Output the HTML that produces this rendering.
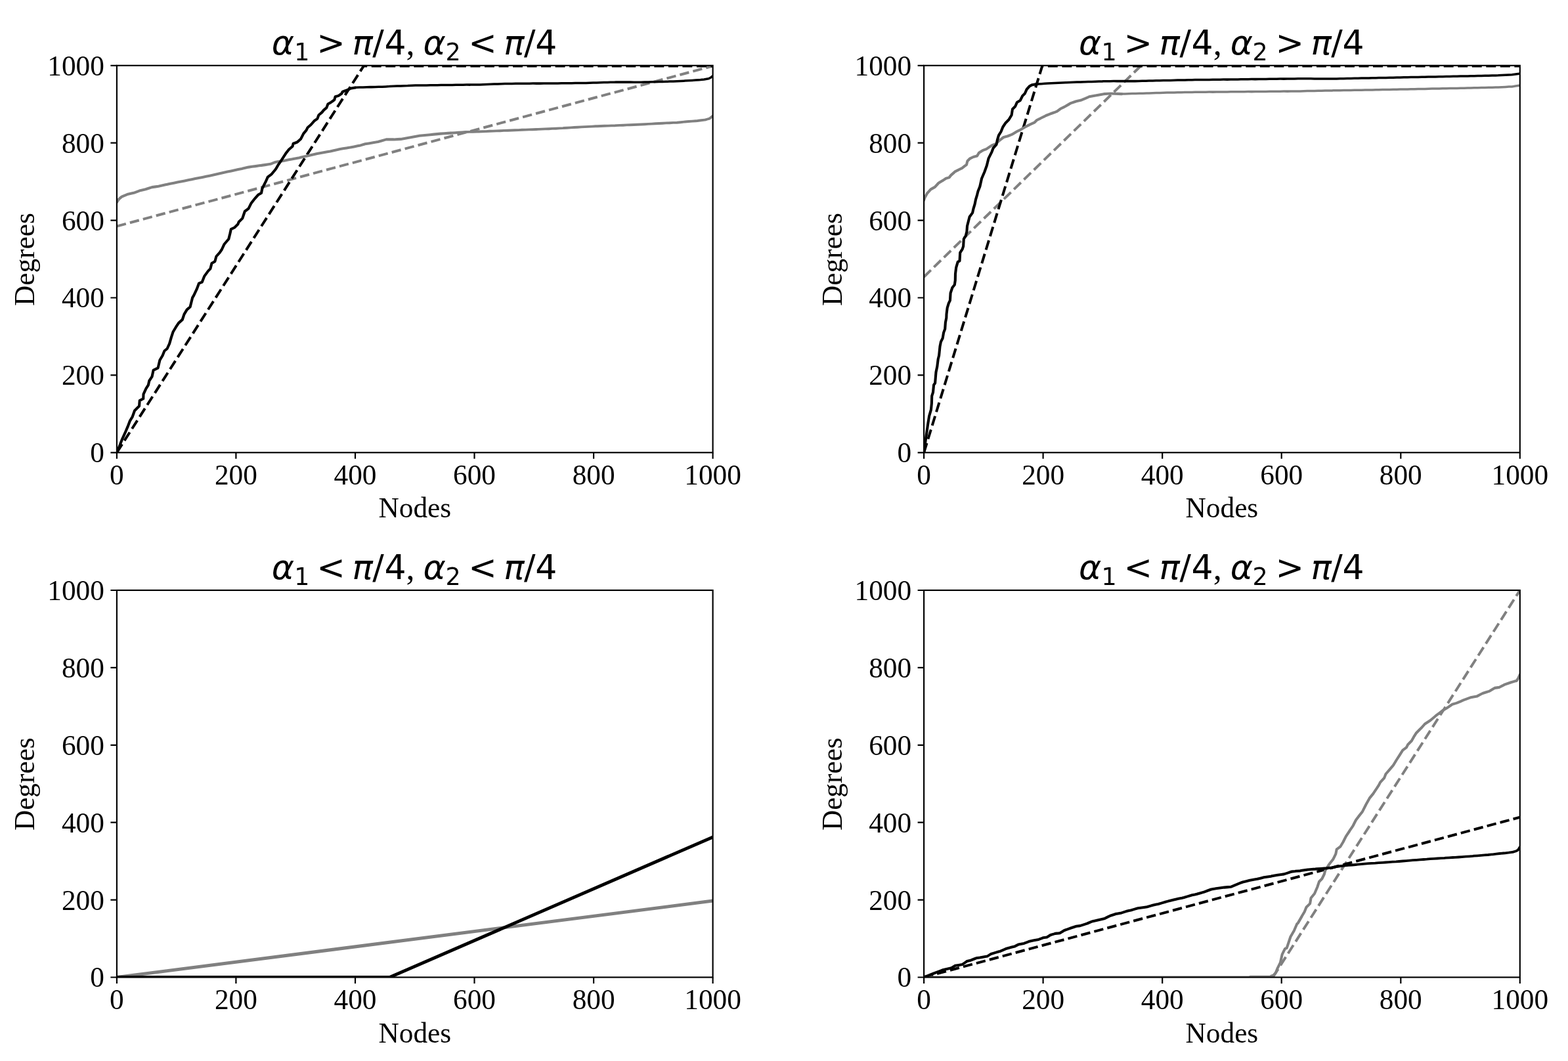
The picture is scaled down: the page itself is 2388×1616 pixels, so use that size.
<!DOCTYPE html>
<html lang="en">
<head>
<meta charset="utf-8">
<title>Degree sequences</title>
<style>
html,body{margin:0;padding:0;background:#fff;}
body{width:2388px;height:1616px;overflow:hidden;}
svg{display:block;}
.t{font-family:"Liberation Serif","DejaVu Serif",serif;font-size:43.3px;fill:#000;}
.m{font-family:"DejaVu Sans","Liberation Sans",sans-serif;font-size:52px;fill:#000;}
.mi{font-family:"DejaVu Sans","Liberation Sans",sans-serif;font-style:italic;font-size:52px;fill:#000;}
.ms{font-family:"DejaVu Sans","Liberation Sans",sans-serif;font-size:36.4px;fill:#000;}
.tc{font-family:"Liberation Serif","DejaVu Serif",serif;font-size:52px;fill:#000;}
.sp{stroke:#000;stroke-width:2.17;fill:none;stroke-linecap:square;}
.tk{stroke:#000;stroke-width:2.17;fill:none;}
.ln{fill:none;stroke-width:3.5;stroke-linejoin:round;stroke-linecap:round;}
.ds{fill:none;stroke-width:4.0;stroke-linejoin:round;stroke-linecap:butt;}
</style>
</head>
<body>
<svg xmlns="http://www.w3.org/2000/svg" width="2388" height="1616" viewBox="0 0 2388 1616">
<rect x="0" y="0" width="2388" height="1616" fill="#fff"/>
<defs>
<clipPath id="c1"><rect x="177.9" y="99.8" width="907.7" height="589.5"/></clipPath>
<clipPath id="c2"><rect x="1407.1" y="99.8" width="907.7" height="589.5"/></clipPath>
<clipPath id="c3"><rect x="177.9" y="899" width="907.7" height="589.5"/></clipPath>
<clipPath id="c4"><rect x="1407.1" y="899" width="907.7" height="589.5"/></clipPath>
</defs>
<g id="ax1">
<g clip-path="url(#c1)">
<path class="ds" stroke="#808080" stroke-dasharray="14.42 6.23" stroke-dashoffset="0" d="M177.9 344.6L1085.6 100.5"/>
<path class="ds" stroke="#000000" stroke-dasharray="15.03 6.5" stroke-dashoffset="0" d="M177.9 689.3L553.9 100.4L1085.6 100.4"/>
<path class="ln" stroke="#808080" style="stroke-width:4.1" d="M178.1 308L181.2 303.1L185.4 299.6L190.8 297.3L193.8 296.1L199.2 294.8L204.7 293.5L205 293.4L210.4 291.3L213.4 290.2L218.8 289L221.8 288.3L227.2 286.5L231.5 285.1L237 284.4L241.3 283.8L246.8 282.6L252.2 281.3L253.9 280.9L259.4 279.8L264.8 278.7L270.3 277.6L275.7 276.5L281.2 275.4L286.6 274.3L292 273.2L297.5 272.1L302.9 271L308.4 269.9L313.8 268.8L319.3 267.7L324.7 266.5L330.2 265.3L335.6 264L341.1 262.8L346.5 261.6L352 260.4L357.4 259.2L362.8 258.1L368.3 257L370 256.6L375.4 255.3L378.4 254.6L383.8 253.8L389.3 253.1L394.7 252.3L398 251.9L403.4 251.1L408.9 250.3L412 249.8L417.4 247.7L418.9 247.1L424.4 246.1L428.7 245.4L434.2 244.4L439.6 243.3L439.9 243.2L445.4 242.3L450.8 241.2L456.3 240.2L456.7 240.1L462.2 238.8L467.6 237.5L467.9 237.4L473.3 236.2L478.8 235L481.9 234.3L487.3 233.3L492.8 232.2L498.2 231.2L502.9 230.5L508.3 229.2L513.8 228L516.9 227.2L522.3 226.3L527.7 225.4L533.2 224.5L533.6 224.4L539.1 223.4L544.5 222.3L549 221.4L554.5 219.7L556 219.3L561.5 218.4L566.9 217.5L572.4 216.6L575.6 216L581 214.5L586.5 212.9L588.2 212.4L593.6 212.4L599.1 212.4L600 212.5L605.4 212.1L610.3 211.9L615.8 210.9L621.2 209.9L626.7 208.9L632.1 207.9L637.6 207L638.7 206.8L644.2 206.2L649.6 205.7L655.1 205.2L660.5 204.6L666 204.1L671 203.6L676.4 203.2L681.9 202.9L686.2 202.6"/>
<path class="ln" stroke="#808080" style="stroke-width:3.9" d="M686.2 202.6L687.3 202.5L692.8 202.2L698.2 201.8L703.7 201.4L709.1 201L709.7 201L715.2 200.9L720.6 200.7L726.1 200.6L729.1 200.5L734.5 200.3L740 200.1L745.4 199.8L750.9 199.6L756.3 199.4L761.8 199.2L767.2 198.9L767.8 198.9L773.3 198.7L778.7 198.5L784.2 198.3L789.6 198.1L795 197.8L800.5 197.6L805.9 197.4L811.4 197.2L816.8 197L819.5 196.9L824.9 196.6L830.3 196.4L835.8 196.2L841.2 195.9L846.7 195.7L852.1 195.4L857.6 195.1L858.2 195L863.6 194.7L869.1 194.4L874.5 194L880 193.7L885.4 193.4L890.9 193.1L896.3 192.9L901.7 192.6L907.2 192.3L909.5 192.3L915 192L920.4 191.8L925.9 191.6L931.3 191.4L936.8 191.2L938.2 191.1L943.6 190.9L949 190.7L954.5 190.4L959.9 190.2L965.4 190L970.8 189.8L976.3 189.5L981.8 189.2L987.2 188.9L992.6 188.6L998.1 188.3L1003.5 188L1009 187.7L1014.4 187.4L1019.9 187.2L1025.3 186.9L1030.8 186.7L1036.2 186.2L1041.7 185.6L1043.1 185.5L1048.5 185L1054 184.6L1059.4 184.2L1062.1 184L1067.6 183.3L1073 182.6L1073.6 182.6L1079 181L1080.3 180.7L1085.7 176.5"/>
<path class="ln" stroke="#000000" style="stroke-width:4.1" d="M178.1 689.4L183.6 675.3L186.1 668.8L190.3 659.7L194.5 649.9L198 640.8L201.5 635.2L205 625.5L209.2 621.3L212 618.5L212.7 610.1L218.1 607.3L218.2 607.3L218.5 600.3L222.4 591.9L225.9 586.3L227.3 580L231.5 573.7L233.6 563.9L239.1 561.2L240.6 560.4L243.4 548.5L247.6 541.5L250.4 534.5L254.6 531L258.1 523.4L260.9 513.6L263.7 505.2L267.9 498.2L272.1 491.9L277.5 487.1L277.7 487L280.5 478.6L284.7 471.6L289.6 467.4L293.1 453.4L295.2 449.9L300.1 439.4L302.9 431.7L307.8 429.6L311.3 420.6L316.7 413.1L316.9 412.9L320.3 409.4L322.5 401L327.3 398.2L329.4 390.5L334.9 384.4L335 384.2L337.8 380L341.3 372.3L346.8 365.8L348.3 363.9L350.4 355.5L351.8 349.2L357.3 346.5L357.4 346.4L362.3 341.5L363.7 338L369.2 332.6L369.3 332.4L372.8 322L378.2 317.9L378.4 317.8L382.6 309.4L388 302.6L388.2 302.4L393.1 296.8L398 294L399.4 287L404.8 276.3L405 276L407.8 269.7L413.2 265.6L413.4 265.5L418.8 259L420.3 257.1L423.9 250.8L428.7 243.8L434.2 235.4L435 234.1L439.9 227.8L445.4 223L445.5 222.9L446.6 218.7L452.1 216.7L452.5 216.6L458 211.8L458.1 211.7L462.3 203.3L466.5 198.4L468.6 194.2L473.5 190L478.9 183.9L479.1 183.7L483.3 180.9L485.4 175.3L490.3 171.1L493.1 167.6L497.3 164.1L499.4 158.5L504.3 155.7L509.2 152.2L510.6 147.3L515.5 145.9L520.3 142.5L521.7 139.7L527.2 137.8L528 137.6L533.5 134.9L533.6 134.8L539.1 133.8L541 133.5"/>
<path class="ln" stroke="#000000" style="stroke-width:3.55" d="M541 133.5L542 133.3L547.5 133.1L552.9 133L558.4 132.8L563.8 132.6L565.8 132.6L571.3 132.5L576.7 132.3L582.1 132.2L587.6 131.9L593 131.6L593.8 131.5L599.2 131.3L604.7 131.1L610.1 130.9L615.6 130.7L621 130.5L621.7 130.4L627.2 130.2L632.6 130L638.1 130L643.5 129.9L649 129.9L649.7 129.9L655.2 129.8L660.6 129.7L666.1 129.7L671.5 129.6L677 129.5L678 129.5L683.4 129.5L688.9 129.4L694.3 129.3L699.8 129.3L705.2 129.2L710.6 129.1L716.1 129.1L719.9 129L725.4 129L730.8 128.9L736.3 128.7L741.7 128.5L747.2 128.3L752.6 128.1L758.1 128L763.5 127.8L768.9 127.6L774.4 127.5L779.8 127.4L785.3 127.3L789.9 127.3L795.3 127.3L800.8 127.2L806.2 127.2L811.6 127.1L817.1 127.1L822.5 127.1L828 127L833.4 127L838.9 127L844.3 126.9L849.8 126.9L855.2 126.8L859.8 126.8L865.2 126.7L870.7 126.7L876.1 126.6L881.6 126.5L887 126.5L892.5 126.4L897.9 126.2L903.4 126.1L908.8 125.9L914.3 125.8L919.7 125.6L925.1 125.5L929.7 125.3L935.2 125.2L938.2 125.1L943.6 125.1L949 125.1L954.5 125.1L959.9 125.1L965.4 125.2L970.8 125.2L976.3 125.2L981.8 125.1L987.2 124.9L992.6 124.8L998.1 124.7L1003.5 124.6L1009 124.4L1014.4 124.3L1019.9 124.1L1025.3 123.9L1030.8 123.7L1036.2 123.5L1041.7 123.2L1043.1 123.1L1048.5 122.8L1054 122.4L1059.4 122.1L1064.8 121.7L1066.9 121.6L1072.3 120.9L1077.8 119.9L1079.3 119.7L1083.1 117.7L1085.7 115.5"/>
</g>
<path class="tk" d="M177.9 689.3v9.5M177.9 689.3h-9.5M359.4 689.3v9.5M177.9 571.4h-9.5M541 689.3v9.5M177.9 453.5h-9.5M722.5 689.3v9.5M177.9 335.6h-9.5M904.1 689.3v9.5M177.9 217.7h-9.5M1085.6 689.3v9.5M177.9 99.8h-9.5"/>
<rect class="sp" x="177.9" y="99.8" width="907.7" height="589.5"/>
<text class="t" text-anchor="middle" transform="translate(177.9 738) scale(1 1.03)">0</text>
<text class="t" text-anchor="middle" transform="translate(359.4 738) scale(1 1.03)">200</text>
<text class="t" text-anchor="middle" transform="translate(541 738) scale(1 1.03)">400</text>
<text class="t" text-anchor="middle" transform="translate(722.5 738) scale(1 1.03)">600</text>
<text class="t" text-anchor="middle" transform="translate(904.1 738) scale(1 1.03)">800</text>
<text class="t" text-anchor="middle" transform="translate(1085.6 738) scale(1 1.03)">1000</text>
<text class="t" text-anchor="end" transform="translate(158.9 704.2) scale(1 1.03)">0</text>
<text class="t" text-anchor="end" transform="translate(158.9 586.3) scale(1 1.03)">200</text>
<text class="t" text-anchor="end" transform="translate(158.9 468.4) scale(1 1.03)">400</text>
<text class="t" text-anchor="end" transform="translate(158.9 350.5) scale(1 1.03)">600</text>
<text class="t" text-anchor="end" transform="translate(158.9 232.6) scale(1 1.03)">800</text>
<text class="t" text-anchor="end" transform="translate(158.9 114.7) scale(1 1.03)">1000</text>
<text class="t" text-anchor="middle" transform="translate(631.8 788.3) scale(1 1.012)">Nodes</text>
<text class="t" text-anchor="middle" transform="translate(52.4 395.1) rotate(-90) scale(1 1.012)">Degrees</text>
<g><text class="mi" x="413.7" y="83.2">α</text><text class="ms" x="448.2" y="92">1</text><text class="m" x="482.3" y="83.2">&gt;</text><text class="mi" x="536.4" y="83.2">π</text><text class="m" x="567.3" y="83.2">/</text><text class="m" x="585.4" y="83.2">4</text><text class="tc" x="618.5" y="83.2">,</text><text class="mi" x="644.6" y="83.2">α</text><text class="ms" x="678.4" y="92">2</text><text class="m" x="713.3" y="83.2">&lt;</text><text class="mi" x="767.3" y="83.2">π</text><text class="m" x="798.1" y="83.2">/</text><text class="m" x="815.3" y="83.2">4</text></g>
</g>
<g id="ax2">
<g clip-path="url(#c2)">
<path class="ds" stroke="#808080" stroke-dasharray="14.83 6.42" stroke-dashoffset="0" d="M1407.1 421.7L1738 99.8"/>
<path class="ds" stroke="#000000" stroke-dasharray="15.03 6.5" stroke-dashoffset="0" d="M1407.1 689.3L1587.3 100.4L2314.8 100.4"/>
<path class="ln" stroke="#808080" style="stroke-width:4.1" d="M1407 305.2L1408.4 301L1411.9 294.7L1417.3 288.6L1417.5 288.4L1422.9 285.4L1423.8 284.9L1429.2 279L1429.4 278.8L1434.8 275.5L1436.4 274.6L1440.6 271.8L1445.5 270.4L1448.3 266.9L1453.7 262.1L1454.5 261.3L1460 258.6L1460.1 258.5L1465.6 255.8L1465.7 255.7L1469.2 252.9L1472 250.8L1473.4 245.2L1476.9 241.7L1482.4 239L1482.5 239L1488 237.6L1488.1 237.6L1490.9 232.7L1496.4 229.2L1496.5 229.2L1501.9 227.1L1502.1 227.1L1507.5 223.4L1510.5 221.5L1515.9 219.4L1516.1 219.4L1521.5 214.5L1523.1 213.1L1528.5 209L1528.7 208.9L1534.1 207.5L1534.3 207.5L1539.7 205.3L1541.3 204.7L1546.7 201.4L1548.2 200.5L1553.7 197.8L1555.2 197L1560.7 193.7L1562.2 192.8L1567.7 190.1L1569.2 189.3L1574.7 186.9L1575.5 186.5L1579 183L1584.5 180.3L1586 179.5L1591.5 176.8L1593 176L1598.5 173.8L1600 173.2L1605.5 171.3L1609.8 169.7L1615.2 165.6L1615.4 165.5L1620.8 162.8L1622.4 162L1627.8 158.9L1630.8 157.1L1636.2 155.3L1639.2 154.3L1644.6 153L1647.5 152.2L1653 149.9L1658.4 147.5L1658.7 147.3L1664.2 146.3L1669.6 145.3L1669.9 145.2L1675.4 144.2L1680.8 143.2L1681.1 143.1L1686.6 142.8L1692 142.5L1692.3 142.5L1697.8 142.7L1703.2 142.9L1708 143.1L1708.5 143.1"/>
<path class="ln" stroke="#808080" style="stroke-width:3.55" d="M1708.5 143.1L1713.4 143L1718.9 142.8L1724.3 142.6L1729.8 142.5L1735.2 142.3L1740.7 142.2L1746.1 142L1749.9 141.9L1755.4 141.8L1760.8 141.6L1766.3 141.4L1771.7 141.2L1777.2 141.1L1782.6 141L1788.1 140.9L1793.5 140.8L1798.9 140.7L1804.4 140.6L1809.8 140.5L1815.3 140.4L1819.9 140.3L1825.3 140.3L1830.8 140.2L1836.2 140.2L1841.6 140.1L1847.1 140.1L1852.5 140L1858 140L1863.4 139.9L1868.9 139.9L1874.3 139.8L1879.8 139.8L1885.2 139.8L1889.8 139.7L1895.2 139.7L1900.7 139.6L1906.1 139.6L1911.6 139.5L1917 139.5L1922.5 139.4L1927.9 139.4L1933.4 139.3L1938.8 139.3L1944.2 139.2L1949.7 139.2L1955.1 139.1L1960.6 139.1L1966 139L1971.5 139L1976.9 138.9L1980 138.9L1985.5 138.8L1990.9 138.6L1996.3 138.5L2001.8 138.4L2007.2 138.3L2012.7 138.2L2018.1 138.1L2023.6 138L2029 137.9L2030 137.8L2035.4 137.8L2040.9 137.7L2046.3 137.6L2051.8 137.5L2057.2 137.4L2062.7 137.3L2068.1 137.3L2073.6 137.2L2079 137.1L2084.5 137L2089.9 136.9L2095.4 136.8L2099.9 136.7L2105.4 136.6L2110.8 136.5L2116.3 136.4L2121.7 136.3L2127.2 136.2L2132.6 136.1L2138.1 136L2143.5 135.9L2148.9 135.8L2154.4 135.7L2159.8 135.6L2165.3 135.4L2169.9 135.4L2175.3 135.2L2180.8 135.1L2186.2 135L2191.6 134.9L2197.1 134.8L2202.5 134.7L2208 134.6L2213.4 134.5L2218.9 134.4L2224.3 134.3L2229.8 134.2L2235.2 134L2239.8 134L2245.2 133.8L2250.7 133.7L2256.1 133.6L2261.6 133.4L2267 133.3L2272.5 133.2L2277.9 133.1L2281.8 133L2287.2 132.7L2292.6 132.4L2298.1 132.1L2302.7 131.9L2308.2 131.1L2313.6 130.3L2314.6 130.2"/>
<path class="ln" stroke="#000000" style="stroke-width:4.1" d="M1407 689.4L1410.5 664.6L1413.3 645L1415.1 633.8L1417.9 624.1L1418.9 614.3L1419.2 603.1L1421 597.5L1422.1 586.3L1424.1 583.5L1425.5 566.7L1427.3 558.3L1428.7 547.1L1430.1 541.5L1431.5 527.6L1432.9 520.6L1435.7 515L1437.1 506.6L1439.2 501L1439.9 491.2L1441.3 484.2L1441.5 478.6L1442.7 468.8L1444.8 461.8L1446.9 457.6L1447.6 446.4L1450.4 438L1453.8 433.8L1454.8 426.9L1455 417.1L1456.2 407.3L1458.7 398.9L1461.5 397.5L1462.2 384.9L1465.7 379.3L1467.1 375.1L1467.8 363.9L1470.6 359.7L1472.4 352.7L1473 344.3L1475.5 334.5L1476.6 330.3L1481.1 324.1L1482.5 317.8L1484.6 310.8L1486 303.8L1488.1 296.8L1489.5 291.2L1492.3 284.2L1495.1 271.8L1499.3 262L1502.8 252.2L1505.6 241.1L1510.5 231.3L1512.6 225.7L1517.5 220.1L1518.9 213.1L1521 206.1L1524.5 200.5L1527.3 193.5L1531.5 187.2L1536.4 182.3L1540.6 175.3L1542 166.2L1546.2 162L1549 155.7L1553.8 152.9L1557.3 145.9L1560.8 142.5L1563.6 136.2L1567.8 131.3L1572 129.2L1577.5 128.4L1579.6 128.2"/>
<path class="ln" stroke="#000000" style="stroke-width:3.55" d="M1579.6 128.2L1580.4 128L1585.9 127.7L1591.3 127.3L1595.8 127.1L1601.2 126.8L1606.7 126.5L1612.1 126.3L1617.6 126L1623 125.7L1623.8 125.7L1629.2 125.5L1634.7 125.3L1640.1 125.1L1645.6 124.9L1651 124.7L1651.8 124.7L1657.2 124.5L1662.6 124.4L1668.1 124.2L1673.5 124L1679 123.9L1679.7 123.8L1685.2 123.8L1690.6 123.7L1696.1 123.6L1701.5 123.6L1706.9 123.6L1712.4 123.6L1717.8 123.6L1723.3 123.6L1728.7 123.6L1734.2 123.5L1739.6 123.3L1745.1 123.2L1749.9 123.1L1755.4 123L1760.8 122.8L1766.3 122.7L1771.7 122.6L1777.2 122.5L1782.6 122.4L1788.1 122.3L1793.5 122.1L1798.9 122L1804.4 121.9L1809.8 121.8L1815.3 121.7L1819.9 121.6L1825.3 121.5L1830.8 121.5L1836.2 121.4L1841.6 121.4L1847.1 121.3L1852.5 121.2L1858 121.2L1863.4 121.1L1868.9 121.1L1874.3 121L1879.8 120.9L1885.2 120.9L1889.8 120.8L1895.2 120.8L1900.7 120.7L1906.1 120.6L1911.6 120.6L1917 120.5L1922.5 120.4L1927.9 120.4L1933.4 120.3L1938.8 120.2L1944.2 120.2L1949.7 120.1L1955.1 120.1L1960.6 120L1966 119.9L1971.5 119.9L1976.9 119.8L1980 119.8L1985.5 119.8L1990.9 119.8L1996.3 119.8L2001.8 119.9L2007.2 119.9L2012.7 119.9L2018.1 119.9L2023.6 120L2029 120L2030 120L2035.4 119.9L2040.9 119.8L2046.3 119.7L2051.8 119.6L2057.2 119.4L2062.7 119.3L2068.1 119.2L2073.6 119.1L2079 119L2084.5 118.9L2089.9 118.8L2095.4 118.7L2099.9 118.6L2105.4 118.5L2110.8 118.4L2116.3 118.3L2121.7 118.2L2127.2 118.1L2132.6 117.9L2138.1 117.8L2143.5 117.7L2148.9 117.6L2154.4 117.5L2159.8 117.4L2165.3 117.3L2169.9 117.2L2175.3 117.1L2180.8 117L2186.2 116.9L2191.6 116.8L2197.1 116.7L2202.5 116.5L2208 116.4L2213.4 116.3L2218.9 116.2L2224.3 116.1L2229.8 116L2235.2 115.9L2239.8 115.8L2245.2 115.7L2250.7 115.5L2256.1 115.4L2261.6 115.3L2267 115.2L2272.5 115L2277.9 114.9L2281.8 114.8L2287.2 114.5L2292.6 114.2L2298.1 113.9L2302.7 113.7L2308.2 112.9L2313.6 112.2L2314.6 112"/>
</g>
<path class="tk" d="M1407.1 689.3v9.5M1407.1 689.3h-9.5M1588.6 689.3v9.5M1407.1 571.4h-9.5M1770.2 689.3v9.5M1407.1 453.5h-9.5M1951.7 689.3v9.5M1407.1 335.6h-9.5M2133.3 689.3v9.5M1407.1 217.7h-9.5M2314.8 689.3v9.5M1407.1 99.8h-9.5"/>
<rect class="sp" x="1407.1" y="99.8" width="907.7" height="589.5"/>
<text class="t" text-anchor="middle" transform="translate(1407.1 738) scale(1 1.03)">0</text>
<text class="t" text-anchor="middle" transform="translate(1588.6 738) scale(1 1.03)">200</text>
<text class="t" text-anchor="middle" transform="translate(1770.2 738) scale(1 1.03)">400</text>
<text class="t" text-anchor="middle" transform="translate(1951.7 738) scale(1 1.03)">600</text>
<text class="t" text-anchor="middle" transform="translate(2133.3 738) scale(1 1.03)">800</text>
<text class="t" text-anchor="middle" transform="translate(2314.8 738) scale(1 1.03)">1000</text>
<text class="t" text-anchor="end" transform="translate(1388.1 704.2) scale(1 1.03)">0</text>
<text class="t" text-anchor="end" transform="translate(1388.1 586.3) scale(1 1.03)">200</text>
<text class="t" text-anchor="end" transform="translate(1388.1 468.4) scale(1 1.03)">400</text>
<text class="t" text-anchor="end" transform="translate(1388.1 350.5) scale(1 1.03)">600</text>
<text class="t" text-anchor="end" transform="translate(1388.1 232.6) scale(1 1.03)">800</text>
<text class="t" text-anchor="end" transform="translate(1388.1 114.7) scale(1 1.03)">1000</text>
<text class="t" text-anchor="middle" transform="translate(1860.9 788.3) scale(1 1.012)">Nodes</text>
<text class="t" text-anchor="middle" transform="translate(1281.6 395.1) rotate(-90) scale(1 1.012)">Degrees</text>
<g><text class="mi" x="1642.9" y="83.2">α</text><text class="ms" x="1677.4" y="92">1</text><text class="m" x="1711.5" y="83.2">&gt;</text><text class="mi" x="1765.6" y="83.2">π</text><text class="m" x="1796.5" y="83.2">/</text><text class="m" x="1814.6" y="83.2">4</text><text class="tc" x="1847.7" y="83.2">,</text><text class="mi" x="1873.8" y="83.2">α</text><text class="ms" x="1907.6" y="92">2</text><text class="m" x="1942.5" y="83.2">&gt;</text><text class="mi" x="1996.5" y="83.2">π</text><text class="m" x="2027.3" y="83.2">/</text><text class="m" x="2044.5" y="83.2">4</text></g>
</g>
<g id="ax3">
<g clip-path="url(#c3)">
<path class="ln" stroke="#808080" style="stroke-width:5" d="M177.9 1488.5L1085.6 1372"/>
<path class="ln" stroke="#000000" style="stroke-width:4.9" d="M177.9 1488.5L593.4 1488.5L1085.6 1274.9"/>
</g>
<path class="tk" d="M177.9 1488.5v9.5M177.9 1488.5h-9.5M359.4 1488.5v9.5M177.9 1370.6h-9.5M541 1488.5v9.5M177.9 1252.7h-9.5M722.5 1488.5v9.5M177.9 1134.8h-9.5M904.1 1488.5v9.5M177.9 1016.9h-9.5M1085.6 1488.5v9.5M177.9 899h-9.5"/>
<rect class="sp" x="177.9" y="899" width="907.7" height="589.5"/>
<text class="t" text-anchor="middle" transform="translate(177.9 1537.2) scale(1 1.03)">0</text>
<text class="t" text-anchor="middle" transform="translate(359.4 1537.2) scale(1 1.03)">200</text>
<text class="t" text-anchor="middle" transform="translate(541 1537.2) scale(1 1.03)">400</text>
<text class="t" text-anchor="middle" transform="translate(722.5 1537.2) scale(1 1.03)">600</text>
<text class="t" text-anchor="middle" transform="translate(904.1 1537.2) scale(1 1.03)">800</text>
<text class="t" text-anchor="middle" transform="translate(1085.6 1537.2) scale(1 1.03)">1000</text>
<text class="t" text-anchor="end" transform="translate(158.9 1503.4) scale(1 1.03)">0</text>
<text class="t" text-anchor="end" transform="translate(158.9 1385.5) scale(1 1.03)">200</text>
<text class="t" text-anchor="end" transform="translate(158.9 1267.6) scale(1 1.03)">400</text>
<text class="t" text-anchor="end" transform="translate(158.9 1149.7) scale(1 1.03)">600</text>
<text class="t" text-anchor="end" transform="translate(158.9 1031.8) scale(1 1.03)">800</text>
<text class="t" text-anchor="end" transform="translate(158.9 913.9) scale(1 1.03)">1000</text>
<text class="t" text-anchor="middle" transform="translate(631.8 1587.5) scale(1 1.012)">Nodes</text>
<text class="t" text-anchor="middle" transform="translate(52.4 1194.2) rotate(-90) scale(1 1.012)">Degrees</text>
<g><text class="mi" x="413.7" y="882.4">α</text><text class="ms" x="448.2" y="891.2">1</text><text class="m" x="482.3" y="882.4">&lt;</text><text class="mi" x="536.4" y="882.4">π</text><text class="m" x="567.3" y="882.4">/</text><text class="m" x="585.4" y="882.4">4</text><text class="tc" x="618.5" y="882.4">,</text><text class="mi" x="644.6" y="882.4">α</text><text class="ms" x="678.4" y="891.2">2</text><text class="m" x="713.3" y="882.4">&lt;</text><text class="mi" x="767.3" y="882.4">π</text><text class="m" x="798.1" y="882.4">/</text><text class="m" x="815.3" y="882.4">4</text></g>
</g>
<g id="ax4">
<g clip-path="url(#c4)">
<path class="ds" stroke="#808080" stroke-dasharray="15.03 6.5" stroke-dashoffset="0" d="M1938.5 1488.5L2314.8 899"/>
<path class="ds" stroke="#000000" stroke-dasharray="14.42 6.23" stroke-dashoffset="0" d="M1407.1 1488.5L2314.8 1244.7"/>
<path class="ln" stroke="#808080" style="stroke-width:4.1" d="M1407.1 1488.5L1412.5 1488.5L1418 1488.5L1423.4 1488.5L1428.9 1488.5L1434.3 1488.5L1439.8 1488.5L1445.2 1488.5L1450.7 1488.5L1456.1 1488.5L1461.6 1488.5L1467 1488.5L1472.5 1488.5L1477.9 1488.5L1483.3 1488.5L1488.8 1488.5L1494.2 1488.5L1499.7 1488.5L1505.1 1488.5L1510.6 1488.5L1516 1488.5L1521.5 1488.5L1526.9 1488.5L1532.4 1488.5L1537.8 1488.5L1543.3 1488.5L1548.7 1488.5L1554.1 1488.5L1559.6 1488.5L1565 1488.5L1570.5 1488.5L1575.9 1488.5L1581.4 1488.5L1586.8 1488.5L1592.3 1488.5L1597.7 1488.5L1603.2 1488.5L1608.6 1488.5L1614.1 1488.5L1619.5 1488.5L1624.9 1488.5L1630.4 1488.5L1635.8 1488.5L1641.3 1488.5L1646.7 1488.5L1652.2 1488.5L1657.6 1488.5L1663.1 1488.5L1668.5 1488.5L1674 1488.5L1679.4 1488.5L1684.9 1488.5L1690.3 1488.5L1695.7 1488.5L1701.2 1488.5L1706.6 1488.5L1712.1 1488.5L1717.5 1488.5L1723 1488.5L1728.4 1488.5L1733.9 1488.5L1739.3 1488.5L1744.8 1488.5L1750.2 1488.5L1755.7 1488.5L1761.1 1488.5L1766.5 1488.5L1772 1488.5L1777.4 1488.5L1782.9 1488.5L1788.3 1488.5L1793.8 1488.5L1799.2 1488.5L1804.7 1488.5L1810.1 1488.5L1815.6 1488.5L1821 1488.5L1826.5 1488.5L1831.9 1488.5L1837.3 1488.5L1842.8 1488.5L1848.2 1488.5L1853.7 1488.5L1859.1 1488.5L1864.6 1488.5L1870 1488.5L1875.5 1488.5L1880.9 1488.5L1886.4 1488.5L1891.8 1488.5L1897.3 1488.5L1902.7 1488.5L1904.1 1487.9L1909.5 1487.9L1915 1487.9L1920.4 1487.9L1925.9 1487.9L1931.3 1487.9L1934.5 1487.9L1935.8 1486.7L1939 1485.8L1942.9 1481.6L1945.7 1474.6L1949.9 1466.2L1952.7 1453.6L1956.9 1445.2L1959.7 1443.8L1965.2 1427.5L1965.3 1427.1L1970.8 1417.5L1970.9 1417.3L1975.1 1407.5L1976.9 1405.6L1982.4 1396.1L1982.5 1395.8L1986.7 1388.8L1989.5 1381.8L1995 1376.4L1995.1 1376.2L1996.5 1367.8L2002 1361L2002.1 1360.8L2006.3 1351L2009.1 1342.7L2013.3 1338.5L2016.8 1331.5L2018.2 1325.9L2023.6 1317.4L2024.5 1316.1L2029.9 1309.3L2030.1 1309.1L2034.3 1300.7L2035.7 1293.7L2041.1 1289.6L2041.3 1289.5L2045.5 1282.5L2049.7 1274.1L2055.1 1266L2055.2 1265.7L2060.7 1257.6L2060.8 1257.3L2065 1249L2069.2 1243.4L2074.7 1236.5L2074.8 1236.4L2080.3 1225.5L2080.4 1225.2L2085.9 1215.6L2086 1215.4L2091.5 1208.6L2091.6 1208.4L2097.1 1200.2L2099.9 1195.8L2102 1191.6L2107.5 1185.6L2108.3 1184.6L2110.4 1179L2115.3 1173.4L2120.8 1166.9L2122.3 1165L2126.5 1158L2131.4 1150.4L2136.3 1142.7L2141.7 1138.6L2141.9 1138.5L2144 1134.3L2149.4 1128.8L2149.6 1128.7L2153.1 1122.4L2156.6 1116.8L2162 1111.3L2164.3 1109.1L2169.7 1103L2169.9 1102.8L2175.3 1099.2L2178.3 1097.2L2183.7 1092.7L2186.6 1090.2L2192.1 1086.1L2197.5 1082L2197.8 1081.8L2203.3 1078.5L2204.8 1077.6L2210.3 1073.8L2211.8 1072.7L2217.3 1071.1L2218.8 1070.6L2224.3 1068.3L2228.6 1066.4L2234.1 1064.4L2239.5 1062.4L2239.8 1062.3L2245.2 1061.2L2249.6 1060.4L2255 1057.5L2258 1056L2263.4 1054.3L2267.8 1052.9L2273.2 1049.7L2276.2 1047.9L2281.6 1047.1L2283.1 1047L2288.6 1044.2L2291.5 1042.6L2297 1040.7L2301.3 1039.2L2306.8 1037.6L2309.7 1036.9L2312.5 1032.5L2314.8 1027.7"/>
<path class="ln" stroke="#000000" style="stroke-width:4.1" d="M1407 1488.3L1412.4 1486.3L1417.9 1484.2L1421 1483L1426.4 1480.9L1431.9 1478.8L1435 1477.6L1440.4 1476.3L1445.9 1475L1449 1474.3L1454.4 1470.9L1454.5 1470.8L1460 1469.9L1465.4 1468.9L1465.7 1468.9L1471.2 1465.1L1472.7 1464L1478.2 1462.7L1478.3 1462.7L1483.8 1460.5L1486.7 1459.3L1492.2 1458.5L1495.1 1458L1500.5 1457.1L1503.5 1456.6L1508.9 1453.1L1509.1 1453L1514.5 1451.4L1516.1 1450.9L1521.5 1449.3L1523.1 1448.9L1528.5 1446.6L1532.9 1444.7L1538.3 1443.2L1539.9 1442.7L1545.3 1441.4L1545.5 1441.4L1550.9 1438.7L1551.1 1438.6L1556.5 1437.5L1559.4 1436.9L1564.9 1434.8L1567.8 1433.7L1573.3 1432.6L1578.7 1431.6L1581.8 1430.9L1587.3 1428.8L1588.8 1428.2L1594.3 1427.5L1594.4 1427.5L1599.9 1424.1L1600 1424L1605.5 1422.4L1607 1421.9L1612.4 1421.4L1614 1421.2L1619.4 1417.9L1621 1417L1626.4 1415.1L1630.8 1413.5L1636.2 1411.7L1639.2 1410.8L1644.6 1410.1L1644.8 1410.1L1650.2 1408.4L1655.6 1406.6L1655.9 1406.5L1661.4 1404.2L1662.9 1403.5L1668.4 1402.3L1672.7 1401.2L1678.2 1399.9L1682.5 1398.9L1688 1396.2L1690.9 1394.7L1696.4 1393L1700 1391.8L1701 1391.8L1706.4 1390.7L1708 1390.4L1713.4 1388.6L1715 1388.1L1720.4 1386.8L1722 1386.5L1727.4 1384.9L1732.8 1383.3L1733.1 1383.2L1738.6 1382.5L1744 1381.7L1747.1 1381.3L1752.6 1379.6L1755.5 1378.7L1761 1377.6L1763.9 1377L1769.4 1375.4L1774.8 1373.8L1777.9 1372.9L1783.4 1371.4L1786.3 1370.7L1791.7 1369.4L1794.7 1368.8L1800.1 1367.7L1803.1 1367L1808.5 1365.4L1814 1363.7L1814.3 1363.6L1819.7 1362.5L1822.7 1361.8L1828.1 1360.2L1833.5 1358.6L1833.8 1358.6L1839.3 1356.5L1844.7 1354.5L1845 1354.4L1850.5 1353.5L1852 1353.2L1857.5 1352.5L1862.9 1351.8L1864.6 1351.6L1870.1 1351.1L1874.4 1350.8L1879.8 1348.6L1882.8 1347.4L1888.2 1345.2L1892.6 1343.5L1898 1342.2L1903.5 1340.8L1903.8 1340.8L1909.2 1339.8L1914.7 1338.8L1915 1338.7L1920.4 1337.4L1924.8 1336.3L1930.2 1335.5L1935.6 1334.7L1935.9 1334.6L1941.4 1333.5L1945.7 1332.7L1951.2 1332L1955.5 1331.4L1961 1329.6L1966.4 1327.8L1966.7 1327.6L1972.2 1327L1973.7 1326.8L1979.2 1326.5L1980 1326.5L1981.1 1326L1986.6 1325.3L1992 1324.5L1992.3 1324.5L1997.7 1324L2003.2 1323.6L2006.3 1323.3L2011.7 1323L2017.2 1322.6L2020.3 1322.4L2025.7 1321.8L2028.7 1321.6L2034.1 1320.3L2037.1 1319.6L2042.5 1319"/>
<path class="ln" stroke="#000000" style="stroke-width:3.8" d="M2042.5 1319L2042.5 1319L2048 1318.4L2048.3 1318.4L2053.7 1317.9L2059.1 1317.5L2064.6 1317L2067.8 1316.7L2073.3 1316.2L2078.7 1315.7L2084.2 1315.2L2088.8 1314.8L2094.3 1314.6L2099.7 1314.2L2105.1 1313.8L2109.8 1313.5L2115.2 1313.1L2120.7 1312.7L2126.1 1312.4L2130.8 1312L2136.2 1311.5L2141.7 1311.1L2147.1 1310.6L2151.7 1310.2L2157.2 1309.8L2162.6 1309.4L2168.1 1309L2172.7 1308.7L2178.2 1308.2L2183.6 1307.8L2189.1 1307.5L2194.5 1307.2L2200 1306.9L2200 1306.9L2201.5 1306.7L2207 1306.3L2212.4 1306L2215.8 1305.8L2221.3 1305.5L2226.7 1305.1L2232.2 1304.7L2237.6 1304.3L2243.1 1303.9L2244.5 1303.7L2249.9 1303.3L2255.3 1302.8L2260.8 1302.4L2266.2 1302L2271.7 1301.4L2273.1 1301.3L2278.5 1300.6L2284 1300L2289.4 1299.5L2292.1 1299.3L2297.6 1298.7L2303 1297.9L2303.6 1297.9L2309 1296.2L2309.3 1296.1L2312.2 1294.3L2314.3 1290.6"/>
</g>
<path class="tk" d="M1407.1 1488.5v9.5M1407.1 1488.5h-9.5M1588.6 1488.5v9.5M1407.1 1370.6h-9.5M1770.2 1488.5v9.5M1407.1 1252.7h-9.5M1951.7 1488.5v9.5M1407.1 1134.8h-9.5M2133.3 1488.5v9.5M1407.1 1016.9h-9.5M2314.8 1488.5v9.5M1407.1 899h-9.5"/>
<rect class="sp" x="1407.1" y="899" width="907.7" height="589.5"/>
<text class="t" text-anchor="middle" transform="translate(1407.1 1537.2) scale(1 1.03)">0</text>
<text class="t" text-anchor="middle" transform="translate(1588.6 1537.2) scale(1 1.03)">200</text>
<text class="t" text-anchor="middle" transform="translate(1770.2 1537.2) scale(1 1.03)">400</text>
<text class="t" text-anchor="middle" transform="translate(1951.7 1537.2) scale(1 1.03)">600</text>
<text class="t" text-anchor="middle" transform="translate(2133.3 1537.2) scale(1 1.03)">800</text>
<text class="t" text-anchor="middle" transform="translate(2314.8 1537.2) scale(1 1.03)">1000</text>
<text class="t" text-anchor="end" transform="translate(1388.1 1503.4) scale(1 1.03)">0</text>
<text class="t" text-anchor="end" transform="translate(1388.1 1385.5) scale(1 1.03)">200</text>
<text class="t" text-anchor="end" transform="translate(1388.1 1267.6) scale(1 1.03)">400</text>
<text class="t" text-anchor="end" transform="translate(1388.1 1149.7) scale(1 1.03)">600</text>
<text class="t" text-anchor="end" transform="translate(1388.1 1031.8) scale(1 1.03)">800</text>
<text class="t" text-anchor="end" transform="translate(1388.1 913.9) scale(1 1.03)">1000</text>
<text class="t" text-anchor="middle" transform="translate(1860.9 1587.5) scale(1 1.012)">Nodes</text>
<text class="t" text-anchor="middle" transform="translate(1281.6 1194.2) rotate(-90) scale(1 1.012)">Degrees</text>
<g><text class="mi" x="1642.9" y="882.4">α</text><text class="ms" x="1677.4" y="891.2">1</text><text class="m" x="1711.5" y="882.4">&lt;</text><text class="mi" x="1765.6" y="882.4">π</text><text class="m" x="1796.5" y="882.4">/</text><text class="m" x="1814.6" y="882.4">4</text><text class="tc" x="1847.7" y="882.4">,</text><text class="mi" x="1873.8" y="882.4">α</text><text class="ms" x="1907.6" y="891.2">2</text><text class="m" x="1942.5" y="882.4">&gt;</text><text class="mi" x="1996.5" y="882.4">π</text><text class="m" x="2027.3" y="882.4">/</text><text class="m" x="2044.5" y="882.4">4</text></g>
</g>
</svg>
</body>
</html>
